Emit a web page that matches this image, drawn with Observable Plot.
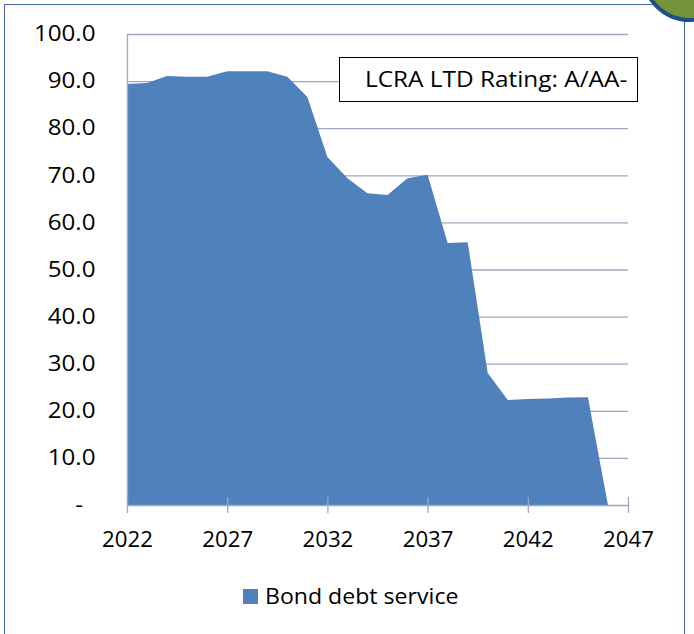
<!DOCTYPE html>
<html>
<head>
<meta charset="utf-8">
<script src="https://cdn.jsdelivr.net/npm/d3@7"></script>
<script src="https://cdn.jsdelivr.net/npm/@observablehq/plot@0.6"></script>
<style>
  html, body { margin: 0; padding: 0; background: #fff; }
  #wrap { position: relative; width: 694px; height: 634px; overflow: hidden; font-family: "Open Sans", sans-serif; }
  #frame { position: absolute; left: 4px; top: 4px; width: 681px; height: 650px; border: 1.5px solid #4a6ca6; box-sizing: border-box; }
  #chart { position: absolute; left: 0; top: 0; }
  #badge { position: absolute; left: 641px; top: -76px; width: 98px; height: 98px; border-radius: 50%; background: #77933c; border: 4px solid #1f4e8c; box-sizing: border-box; }
  #note { position: absolute; left: 339px; top: 57px; width: 299px; height: 45px; border: 1.5px solid #000; background: #fff; box-sizing: border-box; font-size: 21px; line-height: 42px; padding-left: 25px; color: #000; white-space: nowrap; }
  #note span { display: inline-block; transform: scaleX(1.16); transform-origin: left center; }
  #legend { position: absolute; left: 243px; top: 582px; font-size: 21px; color: #000; display: flex; align-items: center; white-space: nowrap; }
  #legend .sw { width: 15px; height: 15px; background: #4f81bd; margin-right: 7px; }
  #legend .lt { display: inline-block; transform: scaleX(1.1); transform-origin: left center; }
</style>
</head>
<body>
<div id="wrap">
  <div id="frame"></div>
  <div id="chart"></div>
  <div id="note"><span>LCRA LTD Rating: A/AA-</span></div>
  <div id="legend"><span class="sw"></span><span class="lt">Bond debt service</span></div>
  <div id="badge"></div>
</div>
<script>
const years = [2022, 2023, 2024, 2025, 2026, 2027, 2028, 2029, 2030, 2031, 2032, 2033, 2034, 2035, 2036, 2037, 2038, 2039, 2040, 2041, 2042, 2043, 2044, 2045, 2046];
const debtService = [89.4, 89.6, 91.1, 90.9, 90.9, 92.1, 92.1, 92.1, 90.9, 86.6, 73.9, 69.4, 66.2, 65.8, 69.4, 70.1, 55.6, 55.8, 28.0, 22.3, 22.5, 22.6, 22.8, 22.9, 0];
const xTicks = [2022, 2027, 2032, 2037, 2042, 2047];
const yTicks = [0, 10, 20, 30, 40, 50, 60, 70, 80, 90, 100];
const seriesName = "Bond debt service";

const data = years.map((year, i) => ({year, value: debtService[i], series: seriesName}));
const gridColor = "#a0a8bf";
const yFmt = d => d === 0 ? "-\u00a0\u00a0" : d.toFixed(1);

const chart = Plot.plot({
  width: 694,
  height: 634,
  marginLeft: 127,
  marginRight: 66,
  marginTop: 34,
  marginBottom: 129,
  style: {fontFamily: "Open Sans, sans-serif", fontSize: "21px", color: "#000", background: "transparent"},
  x: {domain: [2022, 2047], label: null},
  y: {domain: [0, 100], label: null},
  marks: [
    Plot.gridY(yTicks.filter(d => d > 0), {stroke: gridColor, strokeOpacity: 1, strokeWidth: 1.3}),
    Plot.areaY(data, {x: "year", y: "value", fill: "#4f81bd"}),
    Plot.ruleX([2022], {stroke: gridColor, strokeWidth: 1.3}),
    Plot.ruleY([0], {stroke: gridColor, strokeWidth: 1.3}),
    Plot.ruleX(xTicks, {x: d => d, y1: 0, y2: 0, insetTop: -8, insetBottom: -8, stroke: gridColor, strokeWidth: 1.3}),
    Plot.axisX(xTicks, {tickSize: 0, tickPadding: 27, tickFormat: d => String(d), fontSize: 21, label: null}),
    Plot.axisY(yTicks, {tickSize: 0, tickPadding: 32, tickFormat: yFmt, fontSize: 21, label: null})
  ]
});
document.getElementById("chart").appendChild(chart);

// widen the axis labels horizontally about their anchor point (the reference glyphs are wider)
function stretch(sel, k) {
  chart.querySelectorAll(sel).forEach(t => {
    const b = t.getBBox();
    const anchor = getComputedStyle(t).textAnchor;
    const ax = anchor === "end" ? b.x + b.width : anchor === "middle" ? b.x + b.width / 2 : b.x;
    const tr = t.getAttribute("transform") || "";
    t.setAttribute("transform", `${tr} translate(${ax},0) scale(${k},1) translate(${-ax},0)`);
  });
}
stretch('g[aria-label="y-axis tick label"] text', 1.15);
stretch('g[aria-label="x-axis tick label"] text', 1.06);
</script>
</body>
</html>
